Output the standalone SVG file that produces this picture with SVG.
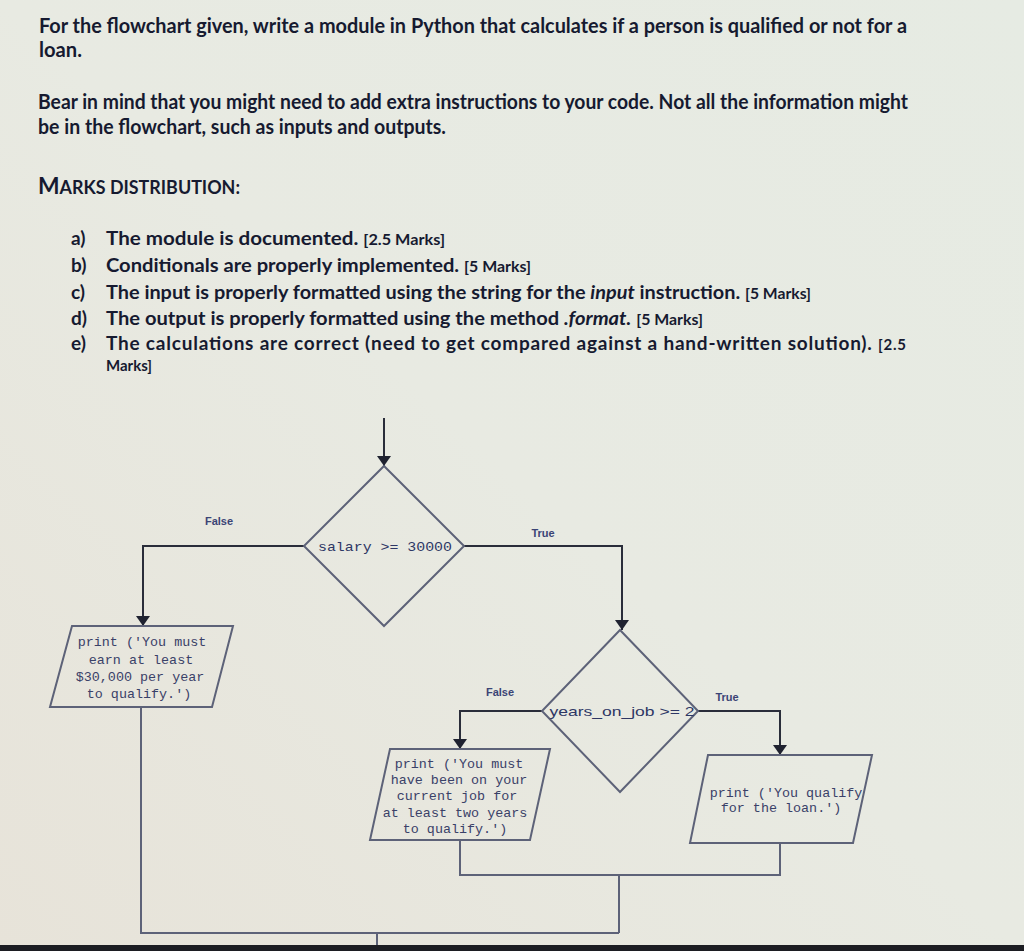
<svg xmlns="http://www.w3.org/2000/svg" width="1024" height="951" viewBox="0 0 1024 951">
  <defs>
    <linearGradient id="bg" x1="1" y1="0" x2="0" y2="1">
      <stop offset="0" stop-color="#e6ebe3"/>
      <stop offset="0.5" stop-color="#e8eae2"/>
      <stop offset="1" stop-color="#e7e3d9"/>
    </linearGradient>
    <marker id="arrow" viewBox="0 0 10 14" refX="10" refY="7" markerWidth="10" markerHeight="14" markerUnits="userSpaceOnUse" orient="auto">
      <path d="M0,0 L10,7 L0,14 z" fill="#1f2230"/>
    </marker>
    <style>
      .q { font-family: Lato, "Liberation Sans", sans-serif; font-weight: bold; fill: #161a30; }
      .item { font-family: Lato, "Liberation Sans", sans-serif; font-weight: bold; font-size: 19px; fill: #161a30; }
      .marks { font-size: 15px; }
      .shape { fill: none; stroke: #5d6278; stroke-width: 2; }
      .conn { fill: none; stroke: #5d6278; stroke-width: 2; }
      .conn-a { fill: none; stroke: #2a2d3a; stroke-width: 2; marker-end: url(#arrow); }
      .code { font-family: "Liberation Mono", "DejaVu Sans Mono", monospace; font-size: 13.4px; fill: #3a4168; text-anchor: middle; }
      .cond { font-family: "Liberation Sans", Arial, sans-serif; font-size: 13px; fill: #2e3765; text-anchor: middle; }
      .cond-mono { font-family: "Liberation Mono", "DejaVu Sans Mono", monospace; font-size: 13.4px; fill: #2e3765; text-anchor: middle; }
      .lbl { font-family: "Liberation Sans", Arial, sans-serif; font-size: 11px; font-weight: bold; fill: #3b4475; text-anchor: middle; }
    </style>
  </defs>

  <rect x="0" y="0" width="1024" height="951" fill="url(#bg)"/>
  <rect x="0" y="945" width="1024" height="6" fill="#1c1d22"/>

  <!-- Question text -->
  <g id="question">
    <text class="q" font-size="20" x="39" y="33" textLength="868" lengthAdjust="spacingAndGlyphs">For the flowchart given, write a module in Python that calculates if a person is qualified or not for a</text>
    <text class="q" font-size="20" x="39" y="57" textLength="43" lengthAdjust="spacingAndGlyphs">loan.</text>
    <text class="q" font-size="20" x="38" y="109" textLength="870" lengthAdjust="spacingAndGlyphs">Bear in mind that you might need to add extra instructions to your code. Not all the information might</text>
    <text class="q" font-size="20" x="38" y="134" textLength="408" lengthAdjust="spacingAndGlyphs">be in the flowchart, such as inputs and outputs.</text>
    <text class="q" x="38" y="194" font-weight="normal" textLength="202" lengthAdjust="spacingAndGlyphs"><tspan font-size="23">M</tspan><tspan font-size="18">ARKS DISTRIBUTION:</tspan></text>
  </g>

  <g id="marks-list">
    <text class="item" x="71" y="245">a)</text>
    <text class="item" x="106" y="245" textLength="339" lengthAdjust="spacingAndGlyphs">The module is documented. <tspan class="marks">[2.5 Marks]</tspan></text>
    <text class="item" x="71" y="272">b)</text>
    <text class="item" x="106" y="272" textLength="425" lengthAdjust="spacingAndGlyphs">Conditionals are properly implemented. <tspan class="marks">[5 Marks]</tspan></text>
    <text class="item" x="71" y="299">c)</text>
    <text class="item" x="106" y="299" textLength="705" lengthAdjust="spacingAndGlyphs">The input is properly formatted using the string for the <tspan font-style="italic">input</tspan> instruction. <tspan class="marks">[5 Marks]</tspan></text>
    <text class="item" x="71" y="325">d)</text>
    <text class="item" x="106" y="325" textLength="597" lengthAdjust="spacingAndGlyphs">The output is properly formatted using the method <tspan font-style="italic">.format.</tspan> <tspan class="marks">[5 Marks]</tspan></text>
    <text class="item" x="71" y="350">e)</text>
    <text class="item" x="106" y="350" textLength="800" lengthAdjust="spacing">The calculations are correct (need to get compared against a hand-written solution). <tspan class="marks">[2.5</tspan></text>
    <text class="item marks" x="106" y="371">Marks]</text>
  </g>

  <!-- Connectors -->
  <g id="connectors">
    <path class="conn-a" d="M384,418 L384,466"/>
    <path class="conn-a" d="M304,546 L143,546 L143,626"/>
    <path class="conn-a" d="M463,546 L622,546 L622,630"/>
    <path class="conn-a" d="M542,711 L460,711 L460,749"/>
    <path class="conn-a" d="M698,711 L780,711 L780,755"/>
    <path class="conn" d="M141,707 L141,933 L619,933"/>
    <path class="conn" d="M460,840 L460,875 L780,875 L780,843"/>
    <path class="conn" d="M619,875 L619,933"/>
    <path class="conn" d="M377,933 L377,945"/>
    <text class="lbl" x="219" y="525">False</text>
    <text class="lbl" x="543" y="537">True</text>
    <text class="lbl" x="500" y="696">False</text>
    <text class="lbl" x="727" y="701">True</text>
  </g>

  <!-- Nodes -->
  <g id="decision-salary">
    <polygon class="shape" points="384,466 464,546 384,626 304,546"/>
    <text class="cond-mono" x="385" y="551" textLength="134" lengthAdjust="spacingAndGlyphs">salary &gt;= 30000</text>
  </g>

  <g id="output-earn">
    <polygon class="shape" points="72,626 233,626 212,707 50,707"/>
    <text class="code" x="142" y="646">print ('You must</text>
    <text class="code" x="141" y="664">earn at least</text>
    <text class="code" x="140" y="681">$30,000 per year</text>
    <text class="code" x="139" y="698">to qualify.')</text>
  </g>

  <g id="decision-years">
    <polygon class="shape" points="620,630 698,711 620,792 542,711"/>
    <text class="cond" x="622" y="716" textLength="145" lengthAdjust="spacingAndGlyphs">years_on_job &gt;= 2</text>
  </g>

  <g id="output-years">
    <polygon class="shape" points="390,749 550,749 530,840 370,840"/>
    <text class="code" x="459" y="768">print ('You must</text>
    <text class="code" x="459" y="784">have been on your</text>
    <text class="code" x="457" y="800">current job for</text>
    <text class="code" x="455" y="817">at least two years</text>
    <text class="code" x="455" y="833">to qualify.')</text>
  </g>

  <g id="output-qualify">
    <polygon class="shape" points="708,755 872,755 853,843 690,843"/>
    <text class="code" x="786" y="797">print ('You qualify</text>
    <text class="code" x="781" y="812">for the loan.')</text>
  </g>
</svg>
